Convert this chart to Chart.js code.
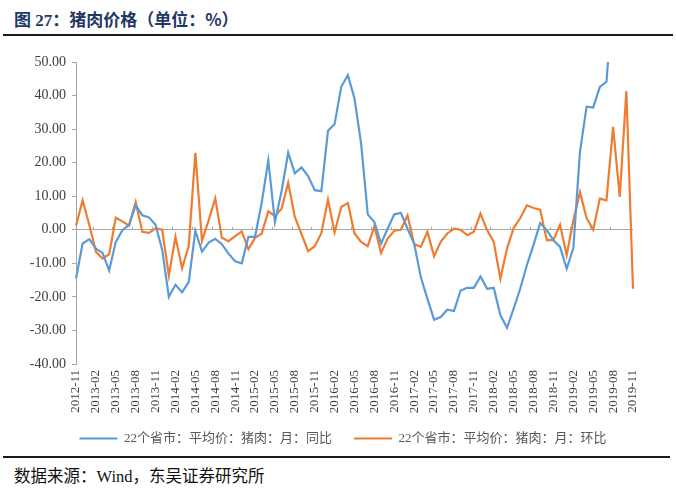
<!DOCTYPE html>
<html>
<head>
<meta charset="utf-8">
<script src="https://cdn.jsdelivr.net/npm/chart.js@4"></script>
<style>
  html, body { margin: 0; padding: 0; width: 676px; height: 493px; overflow: hidden; background: #fff; }
  .title { position: absolute; left: 14px; top: 6px; font: bold 17px "Liberation Serif", "Noto Sans CJK SC"; color: #1f3864; }
  .title .cn { font-family: "Noto Sans CJK SC"; }
  .rule-top { position: absolute; left: 3px; top: 34px; width: 670px; height: 2px; background: #1a1a1a; }
  .rule-bot { position: absolute; left: 3px; top: 456px; width: 667px; height: 2px; background: #1a1a1a; }
  .source { position: absolute; left: 14px; top: 463px; font: 16.5px "Liberation Serif", "Noto Sans CJK SC"; color: #111; }
  #chart { position: absolute; left: 5px; top: 40px; }
</style>
</head>
<body>
<div class="title"><span class="cn">图</span> 27<span class="cn">：猪肉价格（单位：%）</span></div>
<div class="rule-top"></div>
<canvas id="chart" width="676" height="423"></canvas>
<div class="rule-bot"></div>
<div class="source">数据来源：Wind，东吴证券研究所</div>
<script>
// months 2012-11 .. 2019-11
const months = [];
for (let y = 2012, m = 11; y < 2019 || (y === 2019 && m <= 11); m++) {
    if (m > 12) { m = 1; y++; }
    if (y === 2019 && m > 11) break;
    months.push(y + '-' + String(m).padStart(2, '0'));
}

const seriesNames = ['22个省市：平均价：猪肉：月：同比', '22个省市：平均价：猪肉：月：环比'];

// 同比 (year on year, %); the last few run off the top of the axis
const yoy = [
    -14.5, -4.1, -2.8, -5.6, -6.9, -12.1, -3.6, -0.1, 1.5, 7.3,
    4.3, 3.7, 1.5, -6.0, -20.0, -16.4, -18.6, -15.6, -0.3, -6.5,
    -3.8, -2.7, -4.3, -7.1, -9.4, -10.0, -2.1, -2.1, 8.0, 20.7,
    2.3, 11.5, 23.0, 16.8, 18.6, 16.0, 11.8, 11.5, 29.5, 31.5,
    42.6, 46.1, 39.1, 25.7, 4.6, 2.3, -4.1, 0.3, 4.6, 5.0,
    0.3, -4.1, -14.1, -20.6, -26.8, -26.0, -23.8, -24.2, -18.1, -17.3,
    -17.3, -13.9, -17.6, -17.3, -25.5, -29.2, -23.5, -17.5, -10.5, -4.5,
    2.0, -0.1, -3.1, -5.1, -11.6, -5.5, 23.2, 36.7, 36.4, 42.6,
    44.1, 70, 82, 150, 120
];

// 环比 (month on month, %)
const mom = [
    1.2, 8.8, 1.5, -6.5, -8.6, -7.3, 3.6, 2.5, 1.2, 8.3,
    -0.6, -0.9, 0.4, 0.0, -13.7, -2.1, -11.5, -4.8, 22.9, -3.3,
    2.8, 9.4, -2.4, -3.4, -1.9, -0.5, -5.8, -2.4, -1.2, 5.5,
    4.1, 6.3, 14.0, 3.8, -1.2, -6.4, -4.9, -1.0, 9.0, -0.8,
    6.8, 8.0, -1.1, -3.6, -4.9, 1.0, -6.9, -2.6, -0.3, 0.0,
    4.3, -4.3, -5.1, -0.6, -7.9, -3.6, -1.1, 0.3, 0.0, -1.6,
    -0.6, 4.8, -0.1, -3.6, -14.6, -5.6, 0.5, 3.5, 7.3, 6.5,
    6.0, -3.1, -3.1, 1.5, -7.6, 2.8, 11.2, 3.5, 0.0, 9.3,
    8.8, 30.7, 9.8, 41.3, -17.6
];

const yMin = -40, yMax = 50, yStep = 10;

// small marks along the zero line, every 3 months
const zeroTicks = {
    id: 'zeroTicks',
    beforeDatasetsDraw(chart) {
        const x = chart.scales.x, y = chart.scales.y;
        const y0 = y.getPixelForValue(0);
        const ctx = chart.ctx;
        ctx.save();
        ctx.strokeStyle = '#a6a6a6';
        ctx.lineWidth = 1;
        for (let i = 3; i < months.length; i += 3) {
            const px = Math.round((x.getPixelForValue(i) + x.getPixelForValue(i - 1)) / 2) + 0.5;
            ctx.beginPath();
            ctx.moveTo(px, y0 - 3);
            ctx.lineTo(px, y0);
            ctx.stroke();
        }
        ctx.restore();
    }
};

// pull the legend up a little, closer to the rotated month labels
const legendNudge = {
    id: 'legendNudge',
    afterLayout(chart) {
        chart.legend.top -= 8;
        chart.legend.bottom -= 8;
    }
};

new Chart(document.getElementById('chart'), {
    type: 'line',
    data: {
        labels: months,
        datasets: [
            { label: seriesNames[0], data: yoy, borderColor: '#5b9bd5', backgroundColor: '#5b9bd5',
              borderWidth: 2.2, pointRadius: 0, tension: 0, yAxisID: 'y' },
            { label: seriesNames[1], data: mom, borderColor: '#ed7d31', backgroundColor: '#ed7d31',
              borderWidth: 2.2, pointRadius: 0, tension: 0, yAxisID: 'y' },
        ]
    },
    options: {
        responsive: false,
        animation: false,
        devicePixelRatio: 1,
        layout: { padding: { top: 22, left: 0, right: 0, bottom: 0 } },
        plugins: {
            tooltip: { enabled: false },
            legend: {
                position: 'bottom',
                labels: {
                    usePointStyle: true, pointStyle: 'line', pointStyleWidth: 38,
                    color: '#595959', padding: 22,
                    font: { family: '"Liberation Serif", "Noto Sans CJK SC"', size: 13 }
                }
            }
        },
        scales: {
            x: {
                offset: false,
                grid: { display: false, drawTicks: false },
                border: { display: false },
                ticks: {
                    autoSkip: false, minRotation: 90, maxRotation: 90, padding: 6,
                    color: '#404040',
                    font: { family: '"Liberation Serif"', size: 13 },
                    callback: (v, i) => i % 3 === 0 ? months[i] : ''
                },
                afterFit: s => { s.height = 54; }
            },
            y: {
                min: yMin, max: yMax,
                grid: {
                    color: c => c.tick.value === 0 ? '#a6a6a6' : 'rgba(0,0,0,0)',
                    tickColor: '#a6a6a6', tickLength: 4, lineWidth: 1
                },
                border: { color: '#a6a6a6' },
                ticks: {
                    stepSize: yStep, padding: 6, color: '#404040',
                    font: { family: '"Liberation Serif"', size: 14 },
                    callback: v => v.toFixed(2)
                },
                afterFit: s => { s.width = 71; }
            },
            y2: {
                position: 'right',
                grid: { display: false },
                border: { display: false },
                ticks: { display: false },
                afterFit: s => { s.width = 48; }
            }
        }
    },
    plugins: [zeroTicks, legendNudge]
});
</script>
</body>
</html>
